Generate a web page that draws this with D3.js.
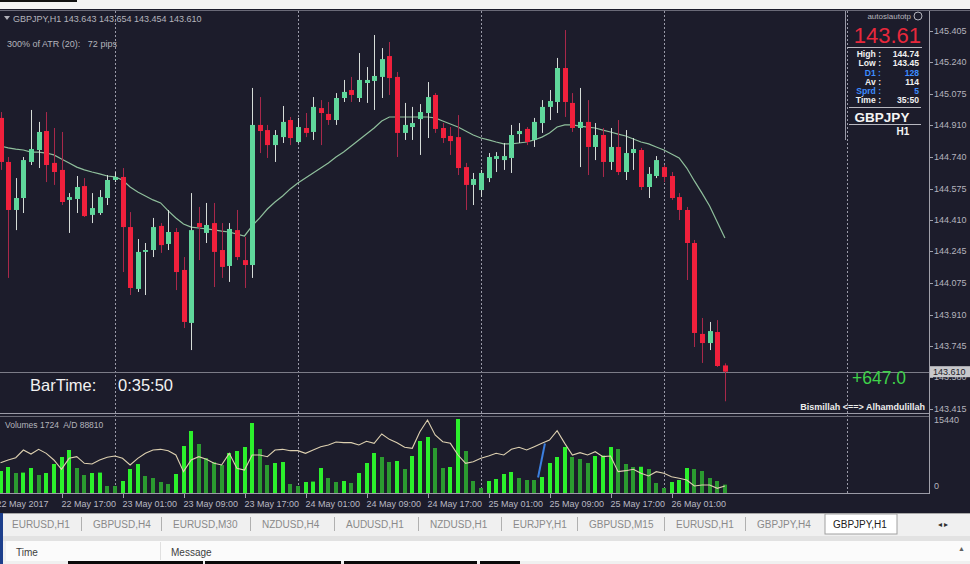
<!DOCTYPE html>
<html><head><meta charset="utf-8">
<script src="https://cdn.jsdelivr.net/npm/d3@7"></script>
<style>
html,body{margin:0;padding:0;background:#fff;overflow:hidden}
svg{display:block;font-family:"Liberation Sans",Arial,sans-serif}
</style></head><body><svg id="c" width="970" height="564"></svg>
<script>
// ---- DATA (GBPJPY H1, 22 May 09:00 -> 26 May 08:00 2017) ----
const opens=[144.947,144.715,144.462,144.525,144.715,144.778,144.878,144.710,144.673,144.515,
144.520,144.588,144.436,144.446,144.525,144.620,144.636,144.372,144.046,144.241,
144.251,144.378,144.283,144.346,144.146,143.867,144.393,144.341,144.393,144.251,
144.167,144.356,144.198,144.172,144.910,144.883,144.804,144.846,144.936,144.820,
144.894,144.873,144.999,144.968,144.936,145.052,145.094,145.052,145.131,145.142,
145.163,145.273,145.163,144.868,144.899,144.941,144.973,145.068,144.894,144.852,
144.846,144.688,144.594,144.567,144.630,144.731,144.725,144.736,144.862,144.889,
144.831,144.920,145.005,145.031,145.210,145.026,144.894,144.926,144.794,144.857,
144.715,144.794,144.662,144.762,144.778,144.583,144.641,144.688,144.641,144.530,
144.462,144.288,143.809,143.761,143.819,143.643];
const highs=[144.978,144.741,144.630,144.741,144.989,144.926,144.978,144.894,144.873,144.551,
144.641,144.630,144.551,144.567,144.646,144.662,144.683,144.451,144.309,144.288,
144.420,144.393,144.462,144.367,144.214,144.551,144.478,144.499,144.499,144.393,
144.393,144.462,144.320,145.105,145.057,144.910,144.883,145.010,144.952,144.947,
144.973,145.057,145.041,145.031,145.078,145.147,145.163,145.289,145.215,145.384,
145.315,145.347,145.189,145.026,145.005,145.020,145.136,145.078,144.920,144.899,
144.962,144.710,144.657,144.673,144.762,144.767,144.815,144.910,144.920,144.899,
144.947,145.041,145.094,145.263,145.410,145.078,145.105,145.041,144.920,144.894,
144.894,144.936,144.883,144.841,144.789,144.688,144.746,144.699,144.662,144.551,
144.478,144.304,143.893,143.872,143.882,143.654];
const lows=[144.673,144.104,144.356,144.446,144.699,144.683,144.609,144.594,144.488,144.341,
144.446,144.425,144.393,144.436,144.488,144.609,144.135,144.014,144.030,144.014,
144.214,144.236,144.251,144.040,143.840,143.724,144.198,144.288,144.056,144.104,
144.083,144.198,144.051,144.104,144.762,144.736,144.715,144.815,144.804,144.815,
144.846,144.831,144.804,144.910,144.910,145.031,145.031,145.031,145.026,144.989,
145.052,145.068,144.741,144.831,144.831,144.752,144.841,144.868,144.815,144.752,
144.646,144.462,144.488,144.530,144.609,144.662,144.673,144.657,144.815,144.804,
144.794,144.868,144.936,144.973,144.952,144.873,144.688,144.646,144.725,144.636,
144.673,144.646,144.620,144.673,144.567,144.525,144.630,144.609,144.515,144.409,
144.093,143.740,143.656,143.724,143.635,143.454];
const closes=[144.715,144.462,144.525,144.725,144.783,144.873,144.699,144.662,144.504,144.530,
144.583,144.430,144.472,144.530,144.620,144.636,144.372,144.051,144.241,144.251,
144.372,144.277,144.346,144.135,143.872,144.356,144.372,144.383,144.241,144.162,
144.362,144.214,144.172,144.910,144.878,144.804,144.857,144.926,144.841,144.899,
144.868,145.005,144.973,144.936,145.052,145.084,145.068,145.147,145.147,145.168,
145.257,145.157,144.868,144.910,144.920,144.978,145.057,144.889,144.841,144.825,
144.683,144.594,144.625,144.657,144.741,144.746,144.746,144.857,144.878,144.820,
144.926,145.005,145.036,145.210,145.031,144.894,144.926,144.794,144.857,144.715,
144.794,144.662,144.762,144.783,144.583,144.652,144.725,144.636,144.525,144.462,
144.288,143.814,143.761,143.824,143.640,143.610];
const maValues=[144.799,144.789,144.783,144.778,144.767,144.767,144.762,144.752,144.731,144.710,
144.688,144.673,144.662,144.652,144.641,144.636,144.620,144.583,144.557,144.536,
144.515,144.499,144.457,144.420,144.388,144.372,144.367,144.362,144.357,144.351,
144.346,144.335,144.325,144.378,144.420,144.467,144.504,144.536,144.573,144.604,
144.631,144.657,144.683,144.710,144.741,144.767,144.799,144.831,144.862,144.894,
144.931,144.952,144.952,144.952,144.952,144.952,144.952,144.947,144.931,144.915,
144.899,144.878,144.857,144.841,144.831,144.820,144.810,144.810,144.815,144.820,
144.831,144.846,144.868,144.899,144.910,144.910,144.904,144.899,144.894,144.883,
144.873,144.862,144.852,144.836,144.820,144.810,144.794,144.778,144.757,144.736,
144.683,144.615,144.551,144.483,144.399,144.314];
const volumes=[4530,5353,4118,4200,5148,3706,4118,5971,7412,8854,
5148,3706,4118,4200,1441,1441,2471,4942,5971,3500,
3089,2265,1853,3912,9677,12766,10089,7207,6383,5765,
8236,8648,9471,14413,9060,5765,6177,6383,1853,1441,
2265,2350,5148,3089,2265,2471,2059,4118,6177,8236,
7412,6383,6589,4942,7618,10707,11530,9266,5148,5353,
15237,8648,2471,1030,2471,2883,3912,4324,3089,2677,
2677,3294,6177,7412,9471,7412,7001,6177,7618,7700,
9471,9060,5971,5353,5400,4942,2059,1030,2265,2677,
5148,4942,4530,3089,2471,1724];
const adValues=[95810,96610,97310,99610,98410,99810,98610,96610,93810,97110,
97610,95610,95410,96610,97410,97810,97110,95110,97110,98610,
99610,99810,99410,98110,93110,96610,97610,96810,95610,95110,
98610,94110,93610,98110,98110,97610,99610,99810,99410,99410,
98610,99610,100610,101110,102010,101810,101810,101110,102210,101610,
104410,102810,101810,100410,100110,105110,108610,104110,102110,101610,
98110,95610,96110,97110,97810,98610,98110,99810,100410,99610,
100610,101610,102610,105410,101610,98110,98810,98110,99110,97610,
97810,93110,93410,93810,92610,91810,93110,92610,91610,91110,
90610,88810,89110,89110,88110,88810];
const priceTicks=[145.405,145.240,145.075,144.910,144.740,144.575,144.410,144.245,144.075,143.910,143.745,143.580,143.415];
const timeLabelBars=[0,8,16,24,32,40,48,56,64,72,80,88];
const timeLabels=["22 May 2017","22 May 17:00","23 May 01:00","23 May 09:00","23 May 17:00","24 May 01:00","24 May 09:00","24 May 17:00","25 May 01:00","25 May 09:00","25 May 17:00","26 May 01:00"];
const dayGridBars=[15,39,63,87,111];
const trendLineBars=[70.5,71.4]; const trendLineVols=[3200,10200];
const infoLabels=["High :","Low :","D1 :","Av :","Sprd :","Time :"];
const infoValues=["144.74","143.45","128","114","5","35:50"];
const tabs=["EURUSD,H1","GBPUSD,H4","EURUSD,M30","NZDUSD,H4","AUDUSD,H1","NZDUSD,H1","EURJPY,H1","GBPUSD,M15","EURUSD,H1","GBPJPY,H4","GBPJPY,H1"];
const currentPrice=143.610, volMax=15440;

// ---- DRAW ----
const svg=d3.select("#c");
const N=closes.length;
const BG="#1c1c2b";
const x=d3.scaleLinear().domain([0,N-1]).range([0.5,0.5+7.625*(N-1)]);
const y=d3.scaleLinear().domain([143.415,145.405]).range([408.7,31]);
const yv=d3.scaleLinear().domain([0,volMax]).range([493,418]);
const yad=d3.scaleLinear().domain([86710,109210]).range([493,418]);
const AX=929;

svg.append("rect").attr("x",0).attr("y",0).attr("width",970).attr("height",10).attr("fill","#f3f3f3");
svg.append("rect").attr("x",0).attr("y",0).attr("width",77).attr("height",2).attr("fill","#111");
svg.append("rect").attr("x",0).attr("y",9).attr("width",970).attr("height",504).attr("fill",BG);
svg.append("line").attr("x1",0).attr("x2",970).attr("y1",10.5).attr("y2",10.5).attr("stroke","#6a6a78");

svg.append("defs").append("clipPath").attr("id","clipA").append("rect").attr("x",0).attr("y",11).attr("width",AX).attr("height",500);
const g=svg.append("g").attr("clip-path","url(#clipA)");

g.selectAll(".grid").data(dayGridBars).join("line")
 .attr("x1",d=>Math.round(x(d))+0.5).attr("x2",d=>Math.round(x(d))+0.5)
 .attr("y1",11).attr("y2",493).attr("stroke","#9a9aa8").attr("stroke-width",1).attr("stroke-dasharray","2,2");

g.append("line").attr("x1",0).attr("x2",AX).attr("y1",Math.round(y(currentPrice))+0.5).attr("y2",Math.round(y(currentPrice))+0.5)
 .attr("stroke","#7c7c88").attr("stroke-width",1);

g.append("path").datum(maValues).attr("fill","none").attr("stroke","#8fbf9c").attr("stroke-width",1.2)
 .attr("d",d3.line().x((d,i)=>x(i)).y(d=>y(d)));

const idx=d3.range(N);
g.selectAll(".wick").data(idx).join("line")
 .attr("x1",i=>Math.round(x(i))+0.5).attr("x2",i=>Math.round(x(i))+0.5)
 .attr("y1",i=>y(highs[i])).attr("y2",i=>y(lows[i]))
 .attr("stroke",i=>closes[i]>=opens[i]?"#d6dcd8":"#a8284a").attr("stroke-width",1);
g.selectAll(".body").data(idx).join("rect")
 .attr("x",i=>Math.round(x(i))-2).attr("width",5)
 .attr("y",i=>y(Math.max(opens[i],closes[i])))
 .attr("height",i=>Math.max(1.5,Math.abs(y(opens[i])-y(closes[i]))))
 .attr("fill",i=>closes[i]>=opens[i]?"#5fd79b":"#f0203c");

svg.append("line").attr("x1",0).attr("x2",AX).attr("y1",413.5).attr("y2",413.5).attr("stroke","#9a9aa6");
svg.append("line").attr("x1",0).attr("x2",AX).attr("y1",416.5).attr("y2",416.5).attr("stroke","#6a6a76");
svg.append("line").attr("x1",0).attr("x2",AX).attr("y1",493.5).attr("y2",493.5).attr("stroke","#9a9aa6");

g.selectAll(".vol").data(idx).join("rect")
 .attr("x",i=>Math.round(x(i))-2).attr("width",4)
 .attr("y",i=>yv(volumes[i])).attr("height",i=>yv(0)-yv(volumes[i]))
 .attr("fill",i=>(i===0||volumes[i]>volumes[i-1])?"#2cf02c":"#2b9a30");
g.append("path").datum(adValues).attr("fill","none").attr("stroke","#ddd0b0").attr("stroke-width",1.1)
 .attr("d",d3.line().x((d,i)=>x(i)).y(d=>yad(d)));
g.append("line").attr("x1",x(trendLineBars[0])).attr("x2",x(trendLineBars[1]))
 .attr("y1",yv(trendLineVols[0])).attr("y2",yv(trendLineVols[1])).attr("stroke","#3b7fe0").attr("stroke-width",2);

svg.append("line").attr("x1",AX+0.5).attr("x2",AX+0.5).attr("y1",11).attr("y2",494).attr("stroke","#a0a0aa");
const pa=svg.append("g");
pa.selectAll("line").data(priceTicks).join("line").attr("x1",AX).attr("x2",AX+4)
 .attr("y1",d=>Math.round(y(d))+0.5).attr("y2",d=>Math.round(y(d))+0.5).attr("stroke","#a0a0aa");
pa.selectAll("text").data(priceTicks).join("text").attr("x",AX+5).attr("y",d=>y(d)+3)
 .attr("font-size",9).attr("fill","#b4b4be").text(d=>d.toFixed(3));
svg.append("rect").attr("x",AX+1).attr("y",y(currentPrice)-5.5).attr("width",40).attr("height",11).attr("fill","#c8c8cc");
svg.append("text").attr("x",AX+4).attr("y",y(currentPrice)+3.5).attr("font-size",9).attr("fill","#202028").text(currentPrice.toFixed(3));
svg.append("text").attr("x",AX+5).attr("y",yv(volMax)+5).attr("font-size",9).attr("fill","#b4b4be").text(volMax);
svg.append("text").attr("x",AX+5).attr("y",yv(0)-4).attr("font-size",9).attr("fill","#b4b4be").text("0");

const ta=svg.append("g").attr("clip-path","url(#clipA)");
ta.selectAll("text").data(timeLabelBars).join("text")
 .attr("x",(d,k)=>x(d)+(k===0?-4:0)).attr("y",507).attr("font-size",9).attr("fill","#b8b8c2")
 .text((d,k)=>timeLabels[k]);
ta.selectAll("line").data(timeLabelBars.slice(1)).join("line")
 .attr("x1",d=>Math.round(x(d))+0.5).attr("x2",d=>Math.round(x(d))+0.5).attr("y1",494).attr("y2",498).attr("stroke","#a0a0aa");

svg.append("path").attr("d","M4,16 L10,16 L7,20 Z").attr("fill","#b0b0b8");
svg.append("text").attr("x",13).attr("y",22).attr("font-size",9).attr("fill","#b4b4bc")
 .text("GBPJPY,H1  "+[opens[N-1],highs[N-1],lows[N-1],closes[N-1]].map(v=>v.toFixed(3)).join(" "));
svg.append("text").attr("x",7).attr("y",47).attr("font-size",9).attr("fill","#b4b4bc").attr("xml:space","preserve").text("300% of ATR (20):   72 pips");
svg.append("text").attr("x",5).attr("y",428).attr("font-size",8.5).attr("fill","#b4b4bc").attr("xml:space","preserve")
 .text("Volumes "+volumes[N-1]+"  A/D "+adValues[N-1]);

svg.append("text").attr("x",30).attr("y",391).attr("font-size",16.5).attr("fill","#f2f2f2").text("BarTime:");
svg.append("text").attr("x",118).attr("y",391).attr("font-size",16.5).attr("fill","#f2f2f2").text("0:35:50");
svg.append("text").attr("x",852).attr("y",384).attr("font-size",17.5).attr("fill","#3fd24a").text("+647.0");
svg.append("text").attr("x",925).attr("y",410).attr("text-anchor","end").attr("font-size",9).attr("font-weight","bold").attr("fill","#ececec").text("Bismillah <==> Alhamdulillah");

const ip=svg.append("g");
ip.append("line").attr("x1",845.5).attr("x2",845.5).attr("y1",11).attr("y2",140).attr("stroke","#9a9aa8");
ip.append("text").attr("x",911).attr("y",19).attr("text-anchor","end").attr("font-size",8).attr("fill","#b4b4bc").text("autoslautotp");
ip.append("circle").attr("cx",918).attr("cy",16).attr("r",4).attr("fill","none").attr("stroke","#b4b4bc");
ip.append("text").attr("x",921).attr("y",43).attr("text-anchor","end").attr("font-size",22).attr("fill","#e8283c").text(closes[N-1].toFixed(2));
ip.append("line").attr("x1",847).attr("x2",922).attr("y1",47.5).attr("y2",47.5).attr("stroke","#b8b8c0");
const rowY=[57,66,75.5,84.5,93.5,103];
const blue=["D1 :","Sprd :"];
ip.selectAll(".lab").data(infoLabels).join("text").attr("x",881).attr("y",(d,k)=>rowY[k]).attr("text-anchor","end")
 .attr("font-size",8.6).attr("font-weight","bold").attr("fill",d=>blue.includes(d)?"#3d8cff":"#f0f0f0").text(d=>d);
ip.selectAll(".val").data(infoValues).join("text").attr("x",919).attr("y",(d,k)=>rowY[k]).attr("text-anchor","end")
 .attr("font-size",8.6).attr("font-weight","bold").attr("fill",(d,k)=>blue.includes(infoLabels[k])?"#3d8cff":"#f0f0f0").text(d=>d);
ip.append("line").attr("x1",849).attr("x2",921).attr("y1",107.5).attr("y2",107.5).attr("stroke","#b8b8c0");
ip.append("text").attr("x",882).attr("y",122).attr("text-anchor","middle").attr("font-size",13.5).attr("font-weight","bold").attr("fill","#f4f4f4").text("GBPJPY");
ip.append("line").attr("x1",849).attr("x2",921).attr("y1",124.5).attr("y2",124.5).attr("stroke","#b8b8c0");
ip.append("text").attr("x",903).attr("y",135).attr("text-anchor","middle").attr("font-size",10).attr("font-weight","bold").attr("fill","#f4f4f4").text("H1");

svg.append("rect").attr("x",0).attr("y",513).attr("width",970).attr("height",51).attr("fill","#f0f0f0");
svg.append("line").attr("x1",0).attr("x2",970).attr("y1",513.5).attr("y2",513.5).attr("stroke","#a8a8a8");
const tabX=[12,93,173,262,346,430,513,589,676,757,833];
const tg=svg.append("g");
tg.append("rect").attr("x",825).attr("y",514).attr("width",72).attr("height",20).attr("fill","#fff").attr("stroke","#a0a0a0");
tg.selectAll("text").data(tabs).join("text").attr("x",(d,k)=>tabX[k]).attr("y",528).attr("font-size",10)
 .attr("fill",(d,k)=>k===tabs.length-1?"#202020":"#8a8a8a").text(d=>d);
tg.selectAll("line").data(tabX.slice(1,-1)).join("line").attr("x1",d=>d-11.5).attr("x2",d=>d-11.5).attr("y1",517).attr("y2",531).attr("stroke","#b0b0b0");
svg.append("text").attr("x",938).attr("y",527).attr("font-size",8).attr("fill","#303030").text("◂  ▸");
svg.append("rect").attr("x",0).attr("y",536).attr("width",970).attr("height",5).attr("fill","#e2e2e2");
svg.append("rect").attr("x",6).attr("y",541).attr("width",964).attr("height",20).attr("fill","#fbfbfb");
svg.append("line").attr("x1",160.5).attr("x2",160.5).attr("y1",542).attr("y2",560).attr("stroke","#e0e0e0");
svg.append("text").attr("x",16).attr("y",556).attr("font-size",10).attr("fill","#404040").text("Time");
svg.append("text").attr("x",171).attr("y",556).attr("font-size",10).attr("fill","#404040").text("Message");
svg.append("text").attr("x",958).attr("y",551).attr("font-size",7).attr("fill","#606060").text("▲");
svg.append("rect").attr("x",0).attr("y",513).attr("width",3).attr("height",51).attr("fill","#1d3f8c");
svg.append("rect").attr("x",68).attr("y",561).attr("width",135).attr("height",3).attr("fill","#0a0a0a");
svg.append("rect").attr("x",205).attr("y",561).attr("width",136).attr("height",3).attr("fill","#0a0a0a");
svg.append("rect").attr("x",344).attr("y",561).attr("width",133).attr("height",3).attr("fill","#0a0a0a");
svg.append("rect").attr("x",480).attr("y",561).attr("width",40).attr("height",3).attr("fill","#0a0a0a");
</script></body></html>
